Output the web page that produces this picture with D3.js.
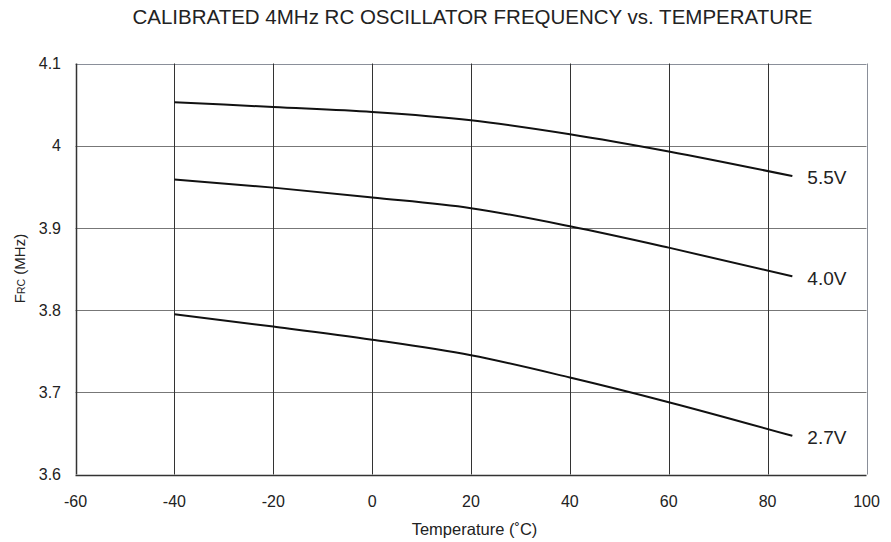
<!DOCTYPE html>
<html>
<head>
<meta charset="utf-8">
<script src="https://cdn.jsdelivr.net/npm/d3@7"></script>
<style>
  body { margin: 0; background: #fff; }
  svg { font-family: "Liberation Sans", Arial, sans-serif; }
</style>
</head>
<body>
<svg width="891" height="542"></svg>
<script>
var temps = [-40, -20, 0, 20, 40, 60, 85];
var v55 = [4.053, 4.047, 4.041, 4.031, 4.014, 3.993, 3.963];
var v40 = [3.959, 3.949, 3.937, 3.924, 3.902, 3.876, 3.841];
var v27 = [3.795, 3.780, 3.764, 3.745, 3.718, 3.688, 3.647];
var seriesNames = ["5.5V", "4.0V", "2.7V"];
var xTicks = [-60, -40, -20, 0, 20, 40, 60, 80, 100];
var yTicks = [3.6, 3.7, 3.8, 3.9, 4, 4.1];

var svg = d3.select("svg");
var pLeft = 75.5, pTop = 63.5, pRight = 866.5, pBottom = 474.5;

var xScale = d3.scaleLinear().domain([-60, 100]).range([pLeft, pRight]);
var yScale = d3.scaleLinear().domain([3.6, 4.1]).range([pBottom, pTop]);

// title
svg.append("text")
  .attr("x", 472.5).attr("y", 24)
  .attr("text-anchor", "middle")
  .attr("font-size", "20.5px")
  .attr("fill", "#222")
  .text("CALIBRATED 4MHz RC OSCILLATOR FREQUENCY vs. TEMPERATURE");

// horizontal grid
svg.append("g")
  .selectAll("line")
  .data(yTicks)
  .enter().append("line")
  .attr("x1", pLeft).attr("x2", pRight)
  .attr("y1", function(d) { return Math.round(yScale(d)) + 0.5; })
  .attr("y2", function(d) { return Math.round(yScale(d)) + 0.5; })
  .attr("stroke", function(d) { return d == 3.6 ? "#333" : (d == 4.1 ? "#8a8f99" : "#777"); })
  .attr("stroke-width", function(d) { return d == 3.6 ? 1.5 : 1; });

// vertical grid
svg.append("g")
  .selectAll("line")
  .data(xTicks)
  .enter().append("line")
  .attr("y1", pTop).attr("y2", pBottom)
  .attr("x1", function(d) { return Math.round(xScale(d)) + 0.5; })
  .attr("x2", function(d) { return Math.round(xScale(d)) + 0.5; })
  .attr("stroke", function(d) { return d == 100 ? "#8a8f99" : "#333"; })
  .attr("stroke-width", function(d) { return d == -60 ? 1.5 : 1; });

// tick labels
svg.append("g")
  .selectAll("text")
  .data(yTicks)
  .enter().append("text")
  .attr("x", 61)
  .attr("y", function(d) { return yScale(d); })
  .attr("dy", "0.35em")
  .attr("text-anchor", "end")
  .attr("font-size", "16px")
  .attr("fill", "#222")
  .text(function(d) { return d3.format("")(d); });

svg.append("g")
  .selectAll("text")
  .data(xTicks)
  .enter().append("text")
  .attr("x", function(d) { return xScale(d); })
  .attr("y", 501)
  .attr("dy", "0.35em")
  .attr("text-anchor", "middle")
  .attr("font-size", "16px")
  .attr("fill", "#222")
  .text(function(d) { return d; });

// axis titles
svg.append("text")
  .attr("x", 474.5).attr("y", 535)
  .attr("text-anchor", "middle")
  .attr("font-size", "16.5px")
  .attr("fill", "#222")
  .text("Temperature (˚C)");

var yl = svg.append("text")
  .attr("transform", "translate(25,268.5) rotate(-90)")
  .attr("text-anchor", "middle")
  .attr("font-size", "15px")
  .attr("fill", "#222");
yl.append("tspan").text("F");
yl.append("tspan").attr("font-size", "10.5px").text("RC");
yl.append("tspan").text(" (MHz)");

// curves
var line = d3.line()
  .x(function(d) { return xScale(d.t); })
  .y(function(d) { return yScale(d.f); })
  .curve(d3.curveMonotoneX);

[v55, v40, v27].forEach(function(vals, k) {
  var pts = temps.map(function(t, i) { return {t: t, f: vals[i]}; });
  svg.append("path")
    .datum(pts)
    .attr("fill", "none")
    .attr("stroke", "#111")
    .attr("stroke-width", 2)
    .attr("d", line);
  svg.append("text")
    .attr("x", xScale(85) + 15)
    .attr("y", yScale(vals[vals.length - 1]) + 1.5)
    .attr("dy", "0.35em")
    .attr("font-size", "19px")
    .attr("fill", "#222")
    .text(seriesNames[k]);
});
</script>
</body>
</html>
